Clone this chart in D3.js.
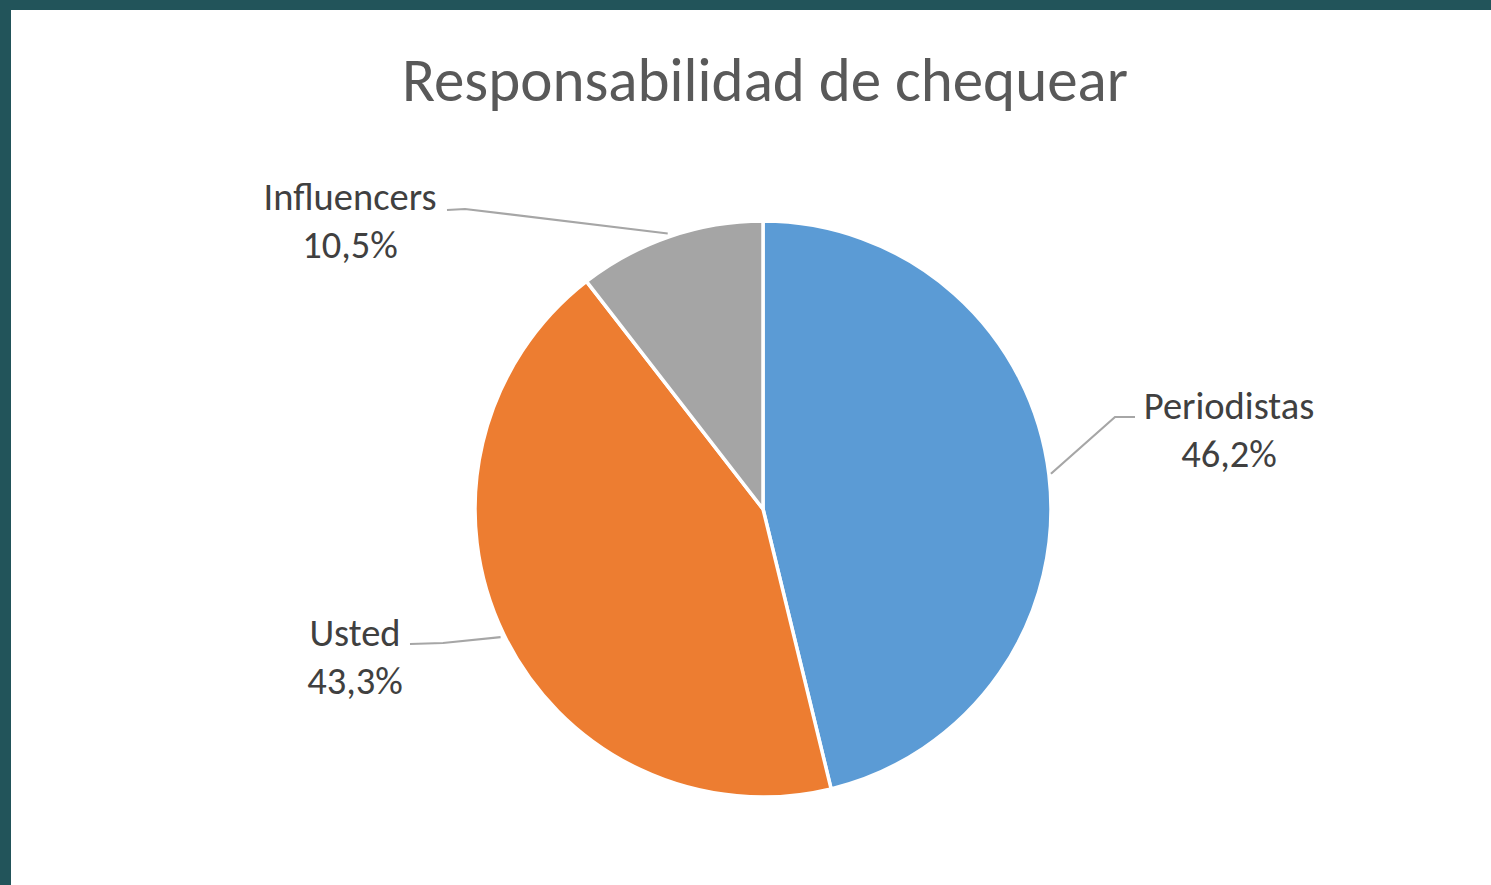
<!DOCTYPE html>
<html>
<head>
<meta charset="utf-8">
<script src="https://cdn.jsdelivr.net/npm/d3@7"></script>
<style>
  html, body { margin: 0; padding: 0; background: #ffffff; overflow: hidden; }
  svg { display: block; }
</style>
</head>
<body>
<svg id="chart" width="1491" height="885"></svg>
<script>
// ---- Data ----
const title = "Responsabilidad de chequear";
const categories = ["Periodistas", "Usted", "Influencers"];
const values = [46.2, 43.3, 10.5];
const valueLabels = ["46,2%", "43,3%", "10,5%"];
const colors = ["#5B9BD5", "#ED7D31", "#A5A5A5"];

// ---- Layout ----
const W = 1491, H = 885;
const cx = 763, cy = 509, R = 288;
const fontFamily = "Carlito, Calibri, Lato, 'Open Sans', sans-serif";
// label anchor offsets (relative to pie centre) and leader-line elbows
const labelPos = [
  { dx: 466, dy: -90, elbowDx: 352, elbowDy: -92 },    // Periodistas
  { dx: -408, dy: 137, elbowDx: -335, elbowDy: 134 },  // Usted
  { dx: -413, dy: -299, elbowDx: -298, elbowDy: -300 } // Influencers
];

const svg = d3.select("#chart");

// background frame
svg.append("rect").attr("x", 0).attr("y", 0).attr("width", W).attr("height", H).attr("fill", "#22545a");
svg.append("rect").attr("x", 11).attr("y", 10).attr("width", W - 11).attr("height", H - 10).attr("fill", "#ffffff");

// title
svg.append("text")
  .attr("x", 765).attr("y", 101)
  .attr("text-anchor", "middle")
  .attr("font-family", fontFamily)
  .attr("font-size", 61)
  .attr("fill", "#595959")
  .text(title);

const data = categories.map((c, i) => ({ name: c, value: values[i], label: valueLabels[i], color: colors[i], i }));

const pie = d3.pie().value(d => d.value).sort(null);
const arcs = pie(data);
const arc = d3.arc().innerRadius(0).outerRadius(R);

const g = svg.append("g").attr("transform", `translate(${cx},${cy})`);

g.selectAll("path.slice")
  .data(arcs)
  .enter().append("path")
  .attr("class", "slice")
  .attr("d", arc)
  .attr("fill", d => d.data.color)
  .attr("stroke", "#ffffff")
  .attr("stroke-width", 3.5)
  .attr("stroke-linejoin", "round");

// leader lines + labels
arcs.forEach((a, k) => {
  const mid = (a.startAngle + a.endAngle) / 2;
  const px = Math.sin(mid) * R, py = -Math.cos(mid) * R;
  const lp = labelPos[k];
  let pts;
  if (k === 0) {
    pts = [[px + 2, py - 1], [lp.elbowDx, lp.elbowDy], [lp.elbowDx + 20, lp.elbowDy]];
  } else if (k === 1) {
    pts = [[px - 3, py + 3], [lp.elbowDx + 15, lp.elbowDy], [lp.elbowDx - 18, lp.elbowDy + 1]];
  } else {
    pts = [[px - 2, py - 3], [lp.elbowDx, lp.elbowDy], [lp.elbowDx - 18, lp.elbowDy + 1]];
  }
  g.append("path")
    .attr("d", d3.line()(pts))
    .attr("fill", "none")
    .attr("stroke", "#A6A6A6")
    .attr("stroke-width", 2.2);

  const t = g.append("text")
    .attr("text-anchor", "middle")
    .attr("font-family", fontFamily)
    .attr("font-size", 38.5)
    .attr("fill", "#404040");
  t.append("tspan").attr("x", lp.dx).attr("y", lp.dy).text(a.data.name);
  t.append("tspan").attr("x", lp.dx).attr("y", lp.dy + 48).text(a.data.label);
});
</script>
</body>
</html>
